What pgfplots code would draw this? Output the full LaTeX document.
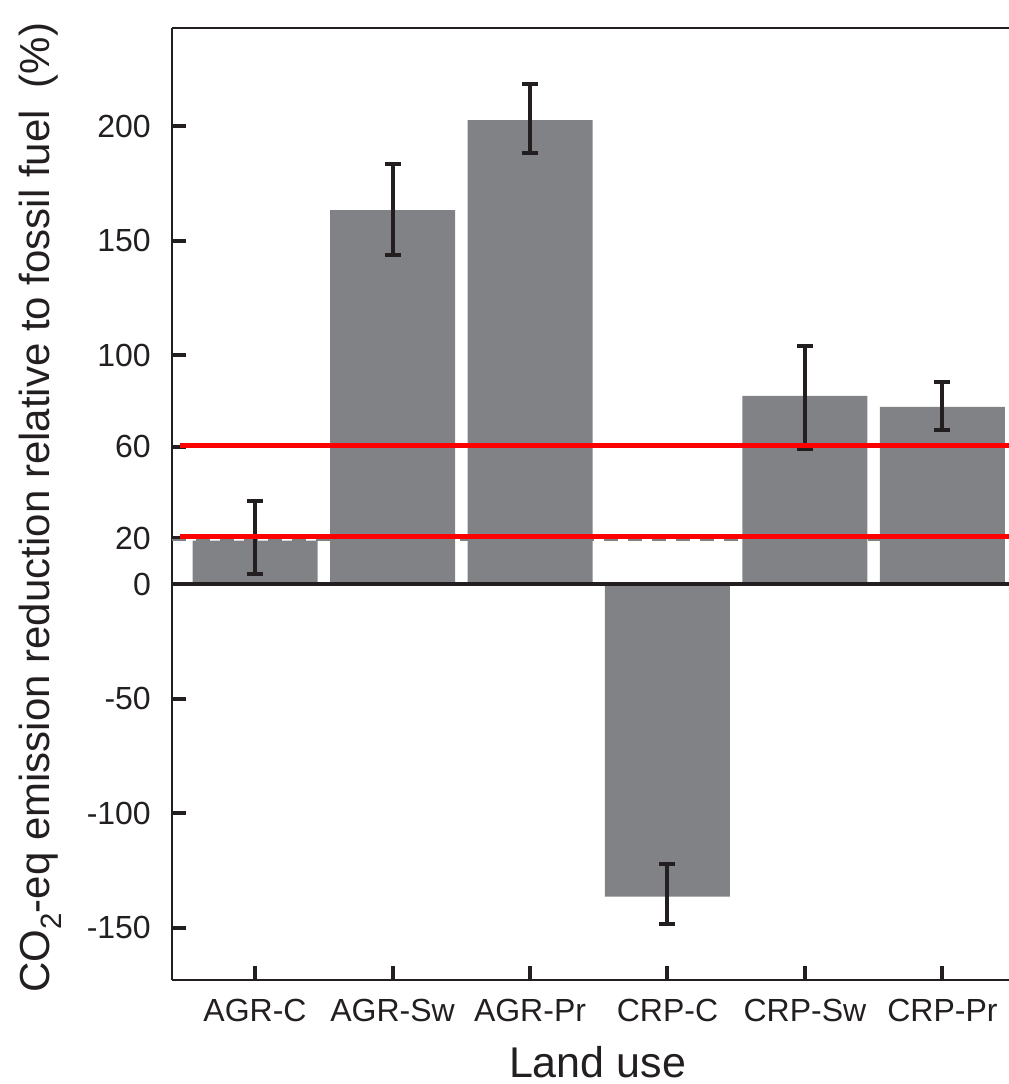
\documentclass[border=0pt]{standalone}
\usepackage{pgfplots}
\pgfplotsset{compat=1.18}
\usepackage{fontspec}
\setmainfont{Liberation Sans}
\definecolor{bargray}{HTML}{808285}
\definecolor{ink}{HTML}{231F20}
\begin{document}
\begin{tikzpicture}
\begin{axis}[
  name=ax,
  scale only axis,
  width=837pt, height=952pt,
  xmin=-0.604, xmax=5.484,
  ymin=-172.9, ymax=242.8,
  axis x line*=box, axis y line*=left,
  axis line style={line width=2.5pt, color=ink},
  xtick={0,1,2,3,4,5},
  xticklabels={AGR-C,AGR-Sw,AGR-Pr,CRP-C,CRP-Sw,CRP-Pr},
  ytick={-150,-100,-50,0,20,60,100,150,200},
  xtick pos=lower, ytick pos=left,
  tick align=inside,
  major tick length=14pt,
  tick style={line width=4pt, color=ink},
  /pgf/number format/assume math mode=true,
  tick label style={font=\fontsize{32}{38}\selectfont, color=ink},
  yticklabel style={inner xsep=0pt, xshift=-21pt},
  xticklabel style={inner ysep=0pt, yshift=-19pt},
  xlabel={Land use},
  ylabel={CO\textsubscript{2}-eq emission reduction relative to fossil fuel\hspace{22pt}(\%)},
  every axis x label/.style={at={(axis description cs:0.5084,-0.1019)}, anchor=base, font=\fontsize{43}{50}\selectfont, color=ink},
  every axis y label/.style={at={(axis description cs:-0.157,0.496)}, anchor=center, rotate=90, font=\fontsize{42}{48}\selectfont, color=ink},
]
\addplot[color=gray, line width=2pt, dash pattern=on 14pt off 10pt] coordinates {(-0.604,19.2) (5.484,19.2)};
\addplot[ybar, bar width=125pt, fill=bargray, draw=none]
  coordinates {
  (0,19)
  (1,163.3)
  (2,202.6)
  (3,-136.5)
  (4,82.2)
  (5,77.4)
};
\addplot[draw=none, mark=none,
  error bars/.cd, y dir=both, y explicit,
  error bar style={line width=4pt, color=ink},
  error mark options={rotate=90, mark size=8pt, line width=4pt, color=ink}]
  coordinates {
  (0,20.3) += (0,16.1) -= (0,16.1)
  (1,163.5) += (0,19.8) -= (0,19.8)
  (2,203.2) += (0,15.1) -= (0,15.1)
  (3,-135.5) += (0,13.1) -= (0,13.1)
  (4,81.6) += (0,22.5) -= (0,22.5)
  (5,77.8) += (0,10.5) -= (0,10.6)
};
\addplot[color=ink, line width=3.5pt] coordinates {(-0.604,0) (5.484,0)};
\addplot[color=red, line width=5pt] coordinates {(-0.545,60.5) (5.484,60.5)};
\addplot[color=red, line width=5pt] coordinates {(-0.545,20.6) (5.484,20.6)};
\end{axis}
\pgfresetboundingbox
\path[use as bounding box] ([xshift=-172pt,yshift=-104pt]ax.south west) rectangle ([yshift=28pt]ax.north east);
\end{tikzpicture}
\end{document}
